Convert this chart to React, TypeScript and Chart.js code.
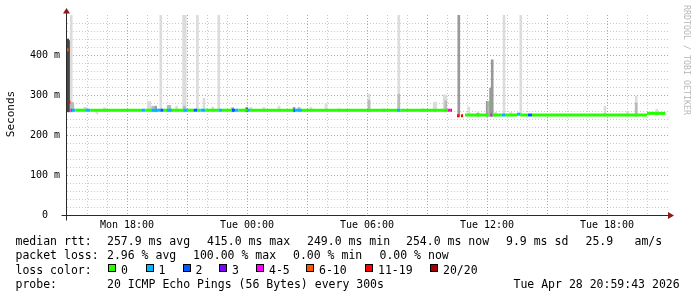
import React, { useEffect, useRef } from 'react';
import { Chart, registerables } from 'chart.js';

Chart.register(...registerables);

// ---------- data (x = hours since Monday 00:00, y = seconds in ms units shown as "m") ----------
const xMin = 15;
const xMax = 45;
const yMin = 0;
const yMax = 500;

const xTickHours = [18, 24, 30, 36, 42];
const xTickLabels = ['Mon 18:00', 'Tue 00:00', 'Tue 06:00', 'Tue 12:00', 'Tue 18:00'];
const yTickValues = [0, 100, 200, 300, 400];
const yTickLabels = ['0  ', '100 m', '200 m', '300 m', '400 m'];

const lossLabels = ['0', '1', '2', '3', '4-5', '6-10', '11-19', '20/20'];
const lossColors = ['#26ff00', '#00b8ff', '#0059ff', '#7e00ff', '#ff00ff', '#ff5500', '#ff0000', '#a10000'];

// median rtt runs: start hour, value (ms), loss class index
const medStart = [15.0, 15.08, 15.17, 15.25, 15.42, 15.92, 16.17, 18.75, 18.92, 19.25,
  19.67, 19.83, 20.0, 20.25, 20.83, 21.0, 21.33, 21.5, 21.67, 21.92,
  22.58, 22.75, 23.25, 23.42, 23.58, 24.0, 24.17, 26.33, 26.42, 26.75,
  31.5, 31.67, 34.05, 34.17, 34.25, 34.5, 34.62, 34.7, 34.8, 34.9,
  36.08, 36.17, 36.27, 36.73, 36.9, 37.5, 37.67, 38.05, 38.25, 44.0];
const medValue = [413, 282, 262, 262, 262, 262, 262, 262, 262, 262,
  262, 262, 262, 262, 262, 262, 262, 262, 262, 262,
  262, 262, 262, 262, 262, 262, 262, 262, 262, 262,
  262, 262, 262, 262, null, 248, null, 248, null, 250,
  276, 250, 250, 250, 250, 252, 250, 250, 250, 254];
const medLoss = [5, 6, 4, 1, 0, 1, 0, 1, 0, 1,
  2, 0, 1, 0, 1, 0, 2, 0, 1, 0,
  1, 0, 2, 1, 0, 1, 0, 2, 1, 0,
  1, 0, 4, 6, 0, 6, 0, 6, 0, 0,
  0, 4, 0, 1, 0, 1, 0, 2, 0, 0];
const medEnd = 44.92;

// smoke (ping spread) per 5-minute step: hour, low, high, shade index
const smokeTime = [15.04, 15.13, 15.21, 15.21, 15.29, 15.88, 15.96, 16.5, 16.88, 19.06,
  19.14, 19.28, 19.43, 19.69, 20.06, 20.14, 20.48, 20.83, 20.91, 20.87,
  21.52, 21.85, 22.28, 22.59, 23.28, 23.99, 24.2, 24.85, 25.6, 26.35,
  26.6, 27.2, 27.95, 28.59, 30.1, 30.1, 30.85, 31.59, 31.59, 32.78,
  33.36, 33.44, 33.86, 33.94, 33.94, 34.59, 35.09, 35.55, 36.01, 36.09,
  36.18, 36.26, 36.43, 36.85, 37.2, 37.69, 41.9, 43.03, 43.46, 43.46,
  44.49];
const smokeLow = [258, 258, 258, 258, 258, 258, 258, 253, 258, 258,
  258, 258, 258, 258, 258, 258, 258, 258, 258, 258,
  258, 258, 258, 258, 258, 258, 258, 258, 258, 258,
  258, 258, 258, 258, 258, 258, 258, 258, 258, 258,
  258, 258, 258, 258, 258, 246, 247, 247, 247, 247,
  247, 247, 247, 247, 247, 247, 247, 247, 247, 247,
  250];
const smokeHigh = [440, 436, 500, 281, 281, 269, 269, 262, 268, 284,
  284, 272, 272, 500, 274, 274, 272, 500, 500, 272,
  500, 292, 270, 500, 268, 268, 269, 269, 272, 269,
  269, 269, 279, 266, 302, 287, 266, 500, 302, 266,
  282, 282, 300, 300, 285, 500, 270, 255, 284, 284,
  317, 388, 257, 500, 257, 500, 272, 258, 297, 280,
  264];
const smokeShade = [3, 3, 0, 1, 1, 0, 0, 0, 0, 0,
  0, 1, 2, 0, 1, 1, 0, 0, 0, 1,
  0, 0, 0, 0, 2, 3, 0, 0, 0, 2,
  1, 0, 0, 0, 0, 1, 0, 0, 1, 0,
  0, 0, 0, 0, 1, 2, 0, 2, 2, 1,
  2, 2, 0, 0, 0, 0, 0, 0, 0, 1,
  0];
const shadeColors = ['#dcdcdc', '#bababa', '#999999', '#474747'];

// legend texts
const legendHeads = ['median rtt:', 'packet loss:', 'loss color:', 'probe:'];
const rttStats = ['257.9 ms avg', '415.0 ms max', '249.0 ms min', '254.0 ms now', '9.9 ms sd', '25.9', 'am/s'];
const lossStats = ['2.96 % avg', '100.00 % max', '0.00 % min', '0.00 % now'];
const probeText = '20 ICMP Echo Pings (56 Bytes) every 300s';
const stampText = 'Tue Apr 28 20:59:43 2026';
const yTitle = 'Seconds';
const watermark = 'RRDTOOL / TOBI OETIKER';

// ---------- layout (positions only) ----------
const rowTop = [234, 248.3, 262.5, 276.7];
const headLeft = 15.5;
const rttLeft = [107, 207, 307, 406, 506, 585.5, 634.5];
const lossLeft = [107, 193, 293, 379.5];
const boxLeft = [108, 145.5, 182.5, 219, 256, 306, 365, 430];
const probeLeft = 107;
const stampLeft = 513.5;

const MONO = "'DejaVu Sans Mono', monospace";
const MINOR = 'rgba(150,150,150,0.5)';
const MAJOR = 'rgba(225,70,70,0.62)';

const gridPlugin = {
  id: 'rrdGrid',
  beforeDatasetsDraw(chart: any) {
    const { ctx, chartArea: a, scales } = chart;
    const x = scales.x;
    const y = scales.y;
    ctx.save();
    ctx.lineWidth = 1;
    ctx.setLineDash([1, 2]);
    for (let v = 20; v < yMax; v += 20) {
      const py = Math.round(y.getPixelForValue(v)) + 0.5;
      ctx.strokeStyle = v % 100 === 0 ? MAJOR : MINOR;
      ctx.beginPath();
      ctx.moveTo(a.left, py);
      ctx.lineTo(a.right + 1, py);
      ctx.stroke();
    }
    for (let h = xMin + 1; h < xMax; h += 1) {
      const px = Math.round(x.getPixelForValue(h)) + 0.5;
      ctx.strokeStyle = h % 3 === 0 ? MAJOR : MINOR;
      ctx.beginPath();
      ctx.moveTo(px, a.top);
      ctx.lineTo(px, a.bottom);
      ctx.stroke();
    }
    ctx.restore();
  },
  afterDatasetsDraw(chart: any) {
    const { ctx, chartArea: a } = chart;
    ctx.save();
    ctx.setLineDash([]);
    ctx.lineWidth = 1;
    ctx.strokeStyle = '#2a2a2a';
    const bx = Math.round(a.left) - 0.5;
    const by = Math.round(a.bottom) + 0.5;
    ctx.beginPath();
    ctx.moveTo(bx, by + 5);
    ctx.lineTo(bx, a.top - 4);
    ctx.moveTo(bx - 5, by);
    ctx.lineTo(a.right + 4, by);
    ctx.stroke();
    ctx.fillStyle = '#8b1c1c';
    ctx.beginPath();
    ctx.moveTo(bx - 3.5, a.top - 1.5);
    ctx.lineTo(bx + 3.5, a.top - 1.5);
    ctx.lineTo(bx, a.top - 7);
    ctx.closePath();
    ctx.fill();
    ctx.beginPath();
    ctx.moveTo(a.right + 1, by - 3.5);
    ctx.lineTo(a.right + 1, by + 3.5);
    ctx.lineTo(a.right + 7, by);
    ctx.closePath();
    ctx.fill();
    ctx.restore();
  },
};

export default function App() {
  const ref = useRef<HTMLCanvasElement>(null);

  useEffect(() => {
    const medPoints: any[] = [];
    for (let i = 0; i < medStart.length; i++) {
      const end = i + 1 < medStart.length ? medStart[i + 1] : medEnd;
      if (medValue[i] === null) {
        medPoints.push({ x: medStart[i], y: null, loss: 0 });
        continue;
      }
      medPoints.push({ x: medStart[i], y: medValue[i], loss: medLoss[i] });
      medPoints.push({ x: end, y: medValue[i], loss: medLoss[i] });
    }
    const smokePoints = smokeTime.map((t, i) => ({ x: t, y: [smokeLow[i], smokeHigh[i]] }));

    const chart = new Chart(ref.current as HTMLCanvasElement, {
      type: 'bar',
      data: {
        datasets: [
          {
            type: 'line',
            data: medPoints,
            order: 0,
            borderWidth: 3,
            borderCapStyle: 'butt',
            pointRadius: 0,
            spanGaps: false,
            borderColor: lossColors[0],
            segment: {
              borderColor: (c: any) => {
                if (c.p0.parsed.x === c.p1.parsed.x) return 'rgba(0,0,0,0)';
                return lossColors[medPoints[c.p0DataIndex].loss];
              },
            },
          } as any,
          {
            type: 'bar',
            data: smokePoints as any,
            order: 1,
            barThickness: 2,
            borderWidth: 0,
            backgroundColor: smokeShade.map((s) => shadeColors[s]),
          } as any,
        ],
      },
      options: {
        animation: false,
        responsive: false,
        maintainAspectRatio: false,
        events: [],
        layout: { padding: { top: 15, right: 30, left: 0, bottom: 0 } },
        plugins: { legend: { display: false }, tooltip: { enabled: false }, title: { display: false } },
        scales: {
          x: {
            type: 'linear',
            min: xMin,
            max: xMax,
            offset: false,
            grid: { display: false, drawTicks: false },
            border: { display: false },
            ticks: {
              stepSize: 1,
              autoSkip: false,
              maxRotation: 0,
              minRotation: 0,
              padding: 4,
              color: '#000',
              font: { family: MONO, size: 10 },
              callback: (v: any) => {
                const i = xTickHours.indexOf(Number(v));
                return i >= 0 ? xTickLabels[i] : '';
              },
            },
            afterFit: (s: any) => { s.height = 82; },
          },
          y: {
            type: 'linear',
            min: yMin,
            max: yMax,
            grid: { display: false, drawTicks: false },
            border: { display: false },
            ticks: {
              stepSize: 100,
              padding: 7,
              color: '#000',
              font: { family: MONO, size: 10 },
              callback: (v: any) => {
                const i = yTickValues.indexOf(Number(v));
                return i >= 0 ? yTickLabels[i] : '';
              },
            },
            afterFit: (s: any) => { s.width = 67; },
          },
        },
      } as any,
      plugins: [gridPlugin],
    });
    return () => chart.destroy();
  }, []);

  const text = (t: string, left: number, top: number, key: string) => (
    <div key={key} style={{ position: 'absolute', left, top, fontFamily: MONO, fontSize: 11.5, lineHeight: '14px', whiteSpace: 'pre', color: '#000' }}>{t}</div>
  );

  return (
    <div style={{ position: 'absolute', left: 0, top: 0, width: 697, height: 297, background: '#fff', overflow: 'hidden' }}>
      <canvas ref={ref} width={697} height={297} style={{ position: 'absolute', left: 0, top: 0, width: 697, height: 297 }} />
      <div style={{ position: 'absolute', left: -14, top: 107, width: 50, height: 14, textAlign: 'center', transform: 'rotate(-90deg)', fontFamily: MONO, fontSize: 11, fontWeight: 'normal', lineHeight: '14px', whiteSpace: 'pre', color: '#000' }}>{yTitle}</div>
      <div style={{ position: 'absolute', left: 627, top: 55, width: 120, height: 10, textAlign: 'center', transform: 'rotate(90deg)', fontFamily: MONO, fontSize: 8.3, lineHeight: '10px', whiteSpace: 'pre', color: '#b8b8b8' }}>{watermark}</div>
      {legendHeads.map((h, i) => text(h, headLeft, rowTop[i], 'h' + i))}
      {rttStats.map((s, i) => text(s, rttLeft[i], rowTop[0], 'r' + i))}
      {lossStats.map((s, i) => text(s, lossLeft[i], rowTop[1], 'l' + i))}
      {lossLabels.map((lab, i) => (
        <React.Fragment key={'c' + i}>
          <div style={{ position: 'absolute', left: boxLeft[i], top: 264, width: 6, height: 6, border: '1px solid #000', background: lossColors[i] }} />
          {text(lab, boxLeft[i] + 13, rowTop[2], 'cl' + i)}
        </React.Fragment>
      ))}
      {text(probeText, probeLeft, rowTop[3], 'p')}
      {text(stampText, stampLeft, rowTop[3], 's')}
    </div>
  );
}
